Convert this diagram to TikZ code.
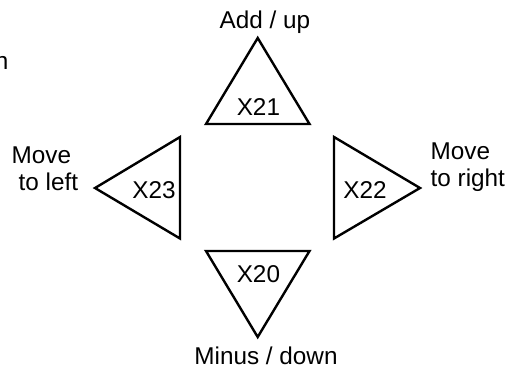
\documentclass[tikz,border=0pt]{standalone}
\usepackage{fontspec}
\setmainfont{Liberation Sans}
\begin{document}
\begin{tikzpicture}[x=1pt,y=-1pt,
  tri/.style={draw=black,line width=2.4pt,line join=miter,fill=white},
  lbl/.style={inner sep=0pt,font=\fontsize{24.3}{27}\selectfont,text=black}]
\useasboundingbox (0,0) rectangle (529,372);
% triangles
\coordinate (ta) at (257.7,38);  \coordinate (tb) at (206,124); \coordinate (tc) at (309.5,124);
\coordinate (la) at (95,188);    \coordinate (lb) at (180,137); \coordinate (lc) at (180,238.5);
\coordinate (ra) at (420,188);   \coordinate (rb) at (334,137); \coordinate (rc) at (334,238.5);
\coordinate (ba) at (257.7,337); \coordinate (bb) at (206,251); \coordinate (bc) at (309.5,251);
\draw[tri] (ta) -- (tb) -- (tc) -- cycle;
\draw[tri] (la) -- (lb) -- (lc) -- cycle;
\draw[tri] (ra) -- (rb) -- (rc) -- cycle;
\draw[tri] (ba) -- (bb) -- (bc) -- cycle;
% key names
\node[lbl,anchor=base] (x21) at (258.4,115) {X21};
\node[lbl,anchor=base] (x23) at (154,198) {X23};
\node[lbl,anchor=base] (x22) at (365,198) {X22};
\node[lbl,anchor=base] (x20) at (258.4,282) {X20};
% functions
\node[lbl,anchor=base] (up) at (265,28.6) {Add / up};
\node[lbl,anchor=base] (down) at (266,364.7) {Minus / down};
\node[lbl,anchor=base west,align=left] (left) at (11.5,190) {Move\\\hspace*{7pt}to left};
\node[lbl,anchor=base west,align=left] (right) at (430.5,186.5) {Move\\to right};
\node[lbl,anchor=base east] (frag) at (8.5,69) {n};
\end{tikzpicture}
\end{document}
